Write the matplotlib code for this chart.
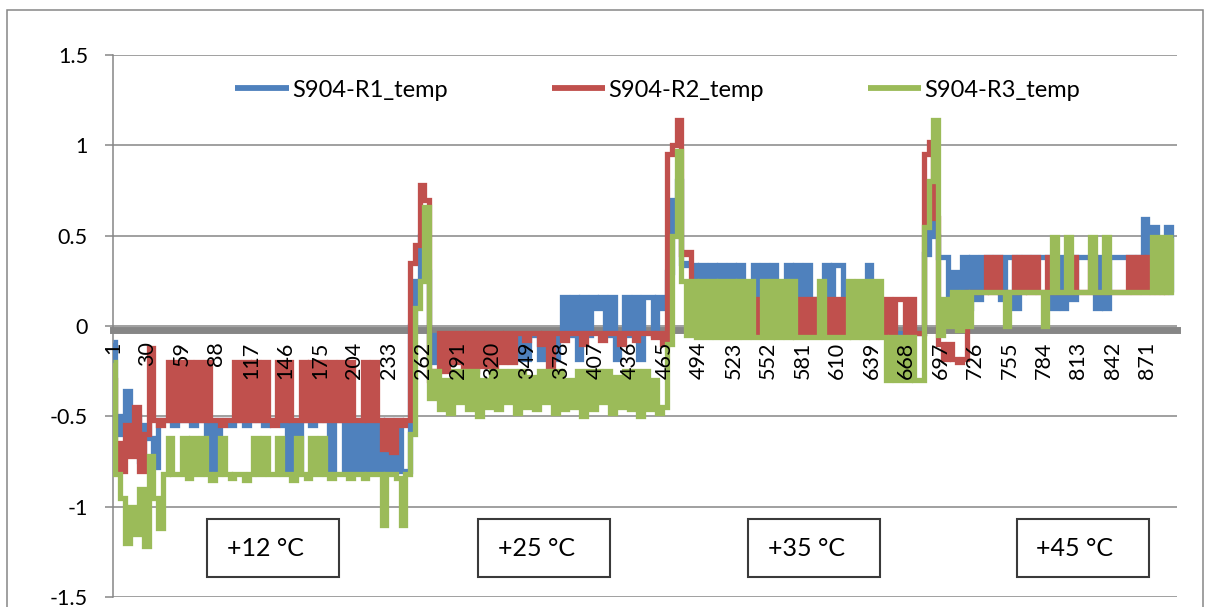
import matplotlib
matplotlib.use("Agg")
import matplotlib.pyplot as plt
from matplotlib.patches import Rectangle

# nombres y colores de las series (estilo Excel)
series_names = ["S904-R1_temp", "S904-R2_temp", "S904-R3_temp"]
series_colors = ["#4F81BD", "#C0504D", "#9BBB59"]

n_points = 896
sample_step = 4
tick_labels = [1, 30, 59, 88, 117, 146, 175, 204, 233, 262, 291, 320, 349, 378, 407, 436,
               465, 494, 523, 552, 581, 610, 639, 668, 697, 726, 755, 784, 813, 842, 871]
y_ticks = [-1.5, -1, -0.5, 0, 0.5, 1, 1.5]
range_labels = ["+12 °C", "+25 °C", "+35 °C", "+45 °C"]

# valores, uno cada 4 muestras
r1 = [
    # +12 C
    -0.09, -0.5, -0.6, -0.36, -0.7, -0.5, -0.75, -0.55, -0.62, -0.78, -0.52, -0.52,
    -0.52, -0.55, -0.52, -0.52, -0.52, -0.55, -0.52, -0.52, -0.8, -0.52,
    -0.8, -0.52, -0.52, -0.55,
    -0.52, -0.52, -0.55, -0.52, -0.52, -0.52, -0.55,
    -0.52, -0.52,
    -0.52, -0.55, -0.8,
    -0.52, -0.8,
    -0.52, -0.52, -0.55, -0.52, -0.52, -0.52, -0.8, -0.52, -0.52, -0.8, -0.52, -0.8,
    -0.52,
    -0.8, -0.52, -0.8,
    -0.52, -0.8, -0.52, -0.8, -0.52, -0.8,
    # salto
    -0.8, 0.0, 0.25, 0.5, 0.3, -0.2,
    # +25 C
    -0.05, -0.18, -0.05, -0.05, -0.18, -0.05, -0.05, -0.18, -0.05, -0.05, -0.05, -0.18,
    -0.05, -0.18, -0.05, -0.05, -0.18, -0.18, -0.05, -0.18, -0.05, -0.05, -0.18, -0.05,
    -0.05, -0.18, -0.05,
    0.16, -0.05, 0.16, -0.18, 0.16, -0.05, 0.16, 0.1, 0.16, -0.05, 0.16, -0.18, -0.05,
    0.16, -0.05, 0.16, -0.18, 0.16, 0.16, -0.05, 0.16,
    # salto
    0.1, 0.3, 0.7, 0.8, 0.35, 0.34,
    # +35 C
    0.34, 0.15, 0.34, -0.04, 0.34, 0.15, 0.34, -0.04, 0.34, 0.15, 0.34, 0.2, -0.04,
    0.34, -0.04, 0.34, 0.15, 0.34, 0.2, -0.04, 0.34, -0.04, 0.34, -0.04, 0.34, -0.04, 0.15, -0.04,
    0.34, -0.04, 0.34, 0.34, -0.04, 0.15, -0.04, 0.15, -0.04, 0.34, -0.04, -0.04,
    -0.04, -0.04, -0.04, -0.04, -0.04, -0.04, -0.04, -0.04, -0.04,
    # salto
    0.4, 0.7, 0.5, 0.38,
    # +45 C
    0.38, 0.1, 0.3, 0.1, 0.38, 0.1, 0.38, 0.15, 0.38, 0.38, 0.38, 0.38, 0.15, 0.38, 0.38,
    0.1, 0.38, 0.38, 0.38, 0.38, 0.38, 0.38, 0.38, 0.1, 0.38, 0.1, 0.38, 0.15, 0.38, 0.38,
    0.38, 0.38, 0.1, 0.38, 0.1,
    0.38, 0.38, 0.38, 0.38, 0.38, 0.38, 0.38, 0.59, 0.38, 0.55, 0.38, 0.38, 0.55, 0.19,
]

r2 = [
    # +12 C
    -0.3, -0.65, -0.8, -0.55, -0.72, -0.45, -0.8, -0.6, -0.12, -0.52, -0.55, -0.52,
    -0.2, -0.52, -0.2, -0.52, -0.2, -0.52, -0.2, -0.52, -0.2, -0.52,
    -0.52, -0.55, -0.52, -0.52,
    -0.2, -0.52, -0.2, -0.52, -0.2, -0.52, -0.2,
    -0.52, -0.55,
    -0.2, -0.52, -0.2,
    -0.52, -0.52,
    -0.2, -0.52, -0.2, -0.52, -0.2, -0.52, -0.2, -0.52, -0.2, -0.52, -0.2, -0.52,
    -0.52,
    -0.2, -0.52, -0.2,
    -0.52, -0.68, -0.52, -0.7, -0.52, -0.55,
    # salto
    -0.52, 0.35, 0.45, 0.78, 0.7, -0.3,
    # +25 C
    -0.25, -0.04, -0.25, -0.04, -0.2, -0.04, -0.25, -0.04, -0.25, -0.04, -0.22, -0.04,
    -0.25, -0.04, -0.2, -0.04, -0.2, -0.04,
    -0.04, -0.08, -0.04, -0.04, -0.1, -0.04, -0.38, -0.04, -0.04, -0.08, -0.04, -0.04,
    -0.04, -0.1, -0.04, -0.04,
    -0.04, -0.08, -0.04, -0.04, -0.04, -0.1, -0.04, -0.04, -0.08, -0.04, -0.04, -0.04,
    -0.06, -0.04,
    # salto
    -0.1, 0.95, 1.0, 1.14, 0.4, 0.41,
    # +35 C
    0.15, -0.04, -0.04, -0.04, -0.04, -0.04, -0.04, -0.04, -0.04, -0.04, -0.04, -0.04, -0.04,
    0.15, -0.04, -0.04, -0.04, 0.15, -0.04, -0.04, -0.04, 0.15, -0.04, 0.15, -0.04, 0.15, -0.04, 0.15,
    -0.04, 0.15, -0.04, 0.15, -0.04, 0.15, -0.04, 0.15, -0.04, 0.15, -0.04, 0.15,
    -0.04, 0.15, -0.04, 0.15, 0.15, -0.04, 0.15, -0.04, -0.04,
    # salto
    0.95, 1.02, 0.6, -0.1,
    # +45 C
    -0.18, -0.1, -0.18, -0.2, -0.18, 0.19, 0.19, 0.19, 0.19, 0.38, 0.19, 0.38, 0.19, 0.19, 0.19,
    0.38, 0.19, 0.38, 0.19, 0.38, 0.19, 0.19, 0.38, 0.19, 0.19, 0.19, 0.19, 0.38, 0.19, 0.19,
    0.19, 0.38, 0.19, 0.19, 0.19,
    0.19, 0.19, 0.19, 0.19, 0.38, 0.19, 0.38, 0.19, 0.38, 0.19, 0.38, 0.19, 0.38, 0.38,
]

r3 = [
    # +12 C
    -0.2, -0.82, -0.95, -1.2, -1.0, -1.15, -0.9, -1.22, -0.72, -0.95, -1.12, -0.82,
    -0.62, -0.82, -0.82, -0.62, -0.84, -0.62, -0.82, -0.62, -0.82, -0.85,
    -0.82, -0.62, -0.82, -0.84,
    -0.82, -0.82, -0.85, -0.82, -0.62, -0.82, -0.62,
    -0.82, -0.82,
    -0.62, -0.82, -0.82,
    -0.85, -0.62,
    -0.82, -0.84, -0.62, -0.82, -0.62, -0.82, -0.84, -0.82, -0.82, -0.82, -0.84, -0.82,
    -0.82,
    -0.84, -0.82, -0.82,
    -0.82, -1.1, -0.82, -0.82, -0.84, -1.1,
    # salto
    -0.82, -0.6, 0.1, 0.25, 0.66, -0.4,
    # +25 C
    -0.25, -0.46, -0.3, -0.48, -0.25, -0.42, -0.25, -0.46, -0.25, -0.5, -0.3, -0.45,
    -0.25, -0.46, -0.25, -0.42,
    -0.25, -0.48, -0.25, -0.45, -0.28, -0.46, -0.25, -0.42, -0.25, -0.48, -0.25, -0.46,
    -0.3, -0.45, -0.25, -0.5,
    -0.25, -0.46, -0.25, -0.42, -0.25, -0.48, -0.28, -0.45, -0.25, -0.46, -0.25, -0.5,
    -0.25, -0.46, -0.3, -0.48,
    # salto
    -0.45, -0.1, 0.5, 0.97, 0.25, -0.05,
    # +35 C
    0.25, -0.06, 0.25, -0.06, 0.25, -0.06, 0.25, -0.06, 0.25, -0.06, 0.25, -0.06, 0.25,
    -0.06, -0.06, 0.25, -0.06, 0.25, -0.06, 0.25, -0.06, 0.25, -0.06, -0.06, -0.06, -0.06, -0.06, 0.25,
    -0.06, -0.06, -0.06, -0.06, -0.06, 0.25, -0.06, 0.25, -0.06, 0.25, -0.06, 0.25,
    -0.06, -0.3, -0.06, -0.3, -0.06, -0.3, -0.06, -0.3, -0.3,
    # salto
    0.55, 0.8, 1.14, -0.05,
    # +45 C
    0.15, 0.0, 0.19, -0.02, 0.19, 0.0, 0.19, 0.19, 0.19, 0.19, 0.19, 0.19, 0.19, 0.0, 0.19,
    0.19, 0.19, 0.19, 0.19, 0.19, 0.19, 0.0, 0.19, 0.49, 0.19, 0.19, 0.49, 0.19, 0.19, 0.19,
    0.19, 0.49, 0.19, 0.19, 0.49,
    0.19, 0.19, 0.19, 0.19, 0.19, 0.19, 0.19, 0.19, 0.19, 0.49, 0.19, 0.49, 0.19, 0.49,
]

x = list(range(1, n_points + 1, sample_step))

plt.rcParams["font.family"] = ["Lato", "DejaVu Sans"]
gris = "#868686"

fig = plt.figure(figsize=(12.08, 6.07), dpi=100)
W, H = 1208, 607
ax = fig.add_axes([113 / W, 1 - 597 / H, 1064 / W, 542 / H])

# steps-mid: con datos tan densos se ve como bloques rellenos, igual que el original
for vals, name, col in zip([r1, r2, r3], series_names, series_colors):
    ax.plot(x, vals, color=col, lw=3.8, label=name, zorder=3, drawstyle="steps-mid",
            solid_joinstyle="miter", solid_capstyle="butt")

for s in ["top", "right"]:
    ax.spines[s].set_visible(False)
ax.spines["left"].set_color(gris)
ax.spines["left"].set_linewidth(1.1)
ax.spines["bottom"].set_position(("data", -0.024))
ax.spines["bottom"].set_color(gris)
ax.spines["bottom"].set_linewidth(5)
ax.spines["bottom"].set_zorder(2)

ax.set_xlim(1, n_points)
ax.set_ylim(-1.5, 1.5)
ax.set_yticks(y_ticks)
ax.set_yticklabels(["%g" % v for v in y_ticks])
ax.set_xticks(tick_labels)
ax.set_xticklabels([str(t) for t in tick_labels])

# lineas de cuadricula horizontales
ax.grid(axis="y", color=gris, lw=1.1)
ax.yaxis.set_zorder(1)
ax.xaxis.set_zorder(5)

ax.tick_params(axis="y", length=6, width=1.1, color=gris, pad=12, labelsize=15.5)
ax.tick_params(axis="x", length=0, pad=8, labelsize=15.5, labelrotation=90)

leg = ax.legend(loc="center", bbox_to_anchor=(0.512, 0.935), ncol=3, frameon=False,
                fontsize=17, handlelength=2.25, handletextpad=0.15, columnspacing=4.4)
for h in leg.get_lines():
    h.set_linewidth(4.2)

# cuadros con la temperatura de cada tramo
box_x = [207, 478, 748, 1017]
for bx, lab in zip(box_x, range_labels):
    fig.add_artist(Rectangle((bx / W, 1 - 577 / H), 132 / W, 58 / H, transform=fig.transFigure,
                             fill=False, ec="#3a3a3a", lw=1.5))
    fig.text((bx + 58) / W, 1 - 548 / H, lab, ha="center", va="center", fontsize=18)

# borde del grafico
fig.add_artist(Rectangle((7 / W, -0.02), 1196 / W, 1 - 10 / H + 0.02, transform=fig.transFigure,
                         fill=False, ec=gris, lw=1.1))

fig.savefig("out.png", dpi=100)
